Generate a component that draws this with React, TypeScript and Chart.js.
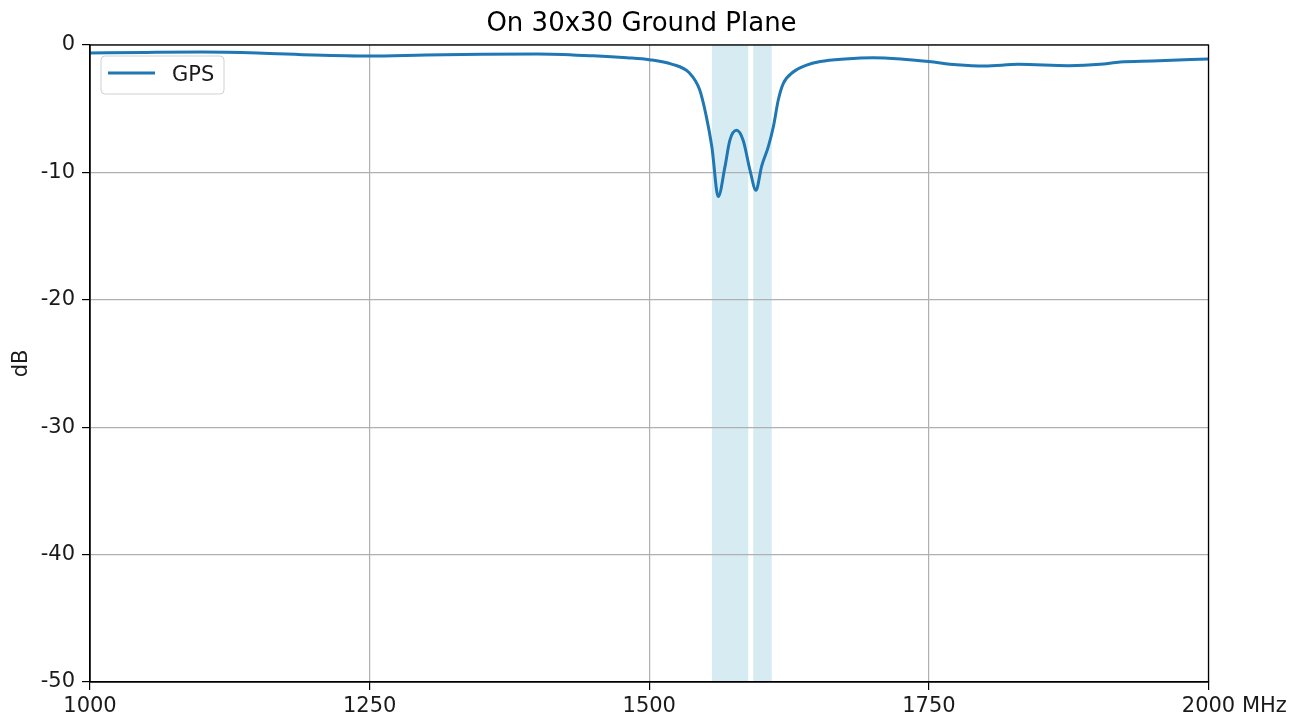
import React, { useEffect, useRef } from "react";
import { Chart, registerables } from "chart.js";

Chart.register(...registerables);

const freqMHz = [
  1000, 1050, 1100, 1150, 1200, 1250, 1300, 1350, 1400, 1450, 1480, 1500, 1520, 1536,
  1545, 1551, 1556, 1561.7, 1567.7, 1572, 1578, 1584, 1590, 1595.4, 1600.5, 1606.4,
  1611, 1615.4, 1620, 1629, 1640, 1653, 1675, 1700, 1725, 1750, 1775, 1800, 1830,
  1875, 1903, 1921, 1950, 2000,
];
const gpsDb = [
  -0.63, -0.58, -0.55, -0.62, -0.78, -0.86, -0.78, -0.72, -0.7, -0.85, -1.0, -1.15, -1.5, -2.2,
  -3.5, -5.6, -8.0, -11.9, -9.55, -7.5, -6.7, -7.5, -9.8, -11.4, -9.5, -8.0,
  -6.4, -4.3, -3.0, -2.1, -1.6, -1.3, -1.1, -1.0, -1.1, -1.3, -1.55, -1.65, -1.52,
  -1.62, -1.52, -1.33, -1.25, -1.1,
];
const bandStarts = [1556, 1593];
const bandEnds = [1588.5, 1609.5];
const xTicks = [1000, 1250, 1500, 1750, 2000];
const yTicks = [0, -10, -20, -30, -40, -50];
const seriesLabel = "GPS";
const titleText = "On 30x30 Ground Plane";
const yLabel = "dB";
const xUnit = "MHz";

const FONT = "'DejaVu Sans', sans-serif";
const TICK_SIZE = 21;

export default function App() {
  const ref = useRef<HTMLCanvasElement>(null);
  useEffect(() => {
    if (!ref.current) return;
    const decor = {
      id: "decor",
      beforeDraw(chart: any) {
        const { ctx, chartArea: a, scales } = chart;
        ctx.save();
        ctx.fillStyle = "rgba(173,216,230,0.5)";
        for (let i = 0; i < bandStarts.length; i++) {
          const x0 = scales.x.getPixelForValue(bandStarts[i]);
          const x1 = scales.x.getPixelForValue(bandEnds[i]);
          ctx.fillRect(x0, a.top, x1 - x0, a.bottom - a.top);
        }
        ctx.restore();
      },
      afterDraw(chart: any) {
        const { ctx, chartArea: a } = chart;
        ctx.save();
        // frame
        ctx.strokeStyle = "#000";
        ctx.lineWidth = 1.3;
        ctx.strokeRect(a.left, a.top, a.right - a.left, a.bottom - a.top);
        // title
        ctx.fillStyle = "#000";
        ctx.font = `26px ${FONT}`;
        ctx.textAlign = "center";
        ctx.textBaseline = "alphabetic";
        ctx.fillText(titleText, 641.5, 31);
        // y label
        ctx.font = `${TICK_SIZE}px ${FONT}`;
        ctx.fillStyle = "#1a1a1a";
        ctx.save();
        ctx.translate(27, (a.top + a.bottom) / 2);
        ctx.rotate(-Math.PI / 2);
        ctx.textAlign = "center";
        ctx.fillText(yLabel, 0, 0);
        ctx.restore();
        // unit after last x tick
        ctx.font = `${TICK_SIZE}px ${FONT}`;
        ctx.textAlign = "left";
        ctx.textBaseline = "middle";
        const last = String(xTicks[xTicks.length - 1]);
        const cx = a.right;
        const start = cx - ctx.measureText(last).width / 2 + ctx.measureText(last + " ").width;
        ctx.fillText(xUnit, start, 707);
        ctx.textBaseline = "alphabetic";
        // legend
        const bx = 101, by = 56, bw = 123, bh = 38, r = 4;
        ctx.beginPath();
        ctx.moveTo(bx + r, by);
        ctx.arcTo(bx + bw, by, bx + bw, by + bh, r);
        ctx.arcTo(bx + bw, by + bh, bx, by + bh, r);
        ctx.arcTo(bx, by + bh, bx, by, r);
        ctx.arcTo(bx, by, bx + bw, by, r);
        ctx.closePath();
        ctx.fillStyle = "rgba(255,255,255,0.8)";
        ctx.fill();
        ctx.strokeStyle = "#d0d0d0";
        ctx.lineWidth = 1;
        ctx.stroke();
        ctx.strokeStyle = "#1f77b4";
        ctx.lineWidth = 3;
        ctx.beginPath();
        ctx.moveTo(108, 73);
        ctx.lineTo(155, 73);
        ctx.stroke();
        ctx.fillStyle = "#1a1a1a";
        ctx.font = `${TICK_SIZE}px ${FONT}`;
        ctx.textAlign = "left";
        ctx.fillText(seriesLabel, 172, 81);
        ctx.restore();
      },
    };
    const chart = new Chart(ref.current, {
      type: "line",
      data: {
        datasets: [
          {
            label: seriesLabel,
            data: freqMHz.map((f, i) => ({ x: f, y: gpsDb[i] })),
            borderColor: "#1f77b4",
            borderWidth: 3,
            pointRadius: 0,
            fill: false,
            cubicInterpolationMode: "monotone",
          },
        ],
      },
      options: {
        animation: false,
        responsive: false,
        maintainAspectRatio: false,
        layout: { padding: { top: 45, right: 98.5, left: 0, bottom: 0 } },
        plugins: { legend: { display: false }, title: { display: false }, tooltip: { enabled: false } },
        scales: {
          x: {
            type: "linear",
            min: 1000,
            max: 2000,
            afterBuildTicks: (s: any) => {
              s.ticks = xTicks.map((v) => ({ value: v }));
            },
            afterFit: (s: any) => {
              s.height = 40;
            },
            ticks: {
              font: { family: FONT, size: TICK_SIZE },
              color: "#1a1a1a",
              padding: 4,
              maxRotation: 0,
              autoSkip: false,
              callback: (v: any) => String(v),
            },
            grid: { color: "#b0b0b0", lineWidth: 1.2, tickColor: "#000", tickLength: 8 },
            border: { color: "#000", width: 1.3 },
          },
          y: {
            min: -50,
            max: 0,
            afterBuildTicks: (s: any) => {
              s.ticks = yTicks.map((v) => ({ value: v }));
            },
            afterFit: (s: any) => {
              s.width = 90;
            },
            ticks: {
              font: { family: FONT, size: TICK_SIZE },
              color: "#1a1a1a",
              padding: 7,
              autoSkip: false,
              callback: (v: any) => String(v),
            },
            grid: { color: "#b0b0b0", lineWidth: 1.2, tickColor: "#000", tickLength: 8 },
            border: { color: "#000", width: 1.3 },
          },
        },
      },
      plugins: [decor],
    } as any);
    return () => chart.destroy();
  }, []);
  return (
    <div style={{ position: "absolute", left: 0, top: 0, width: 1307, height: 722, background: "#fff" }}>
      <canvas ref={ref} width={1307} height={722} style={{ width: 1307, height: 722 }} />
    </div>
  );
}
